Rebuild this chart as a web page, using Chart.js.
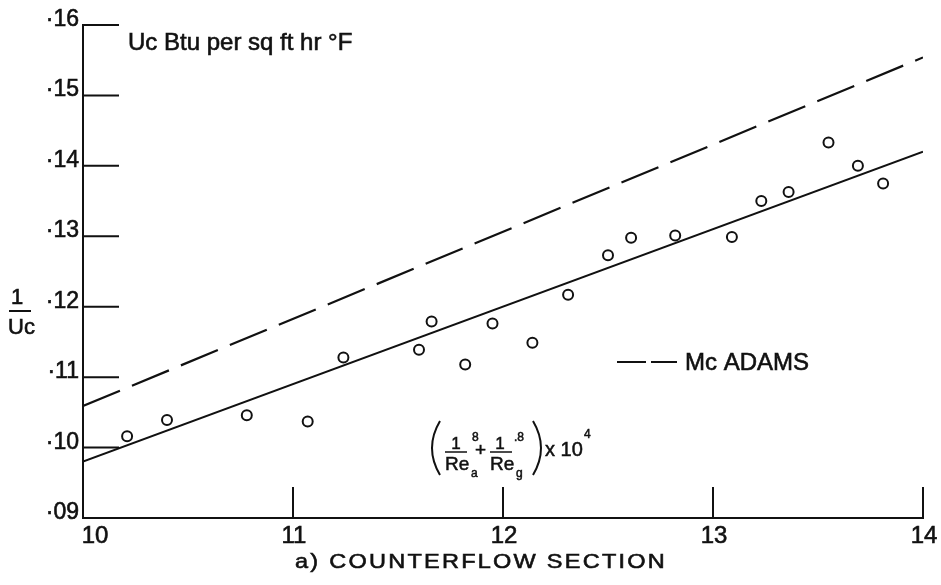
<!DOCTYPE html>
<html>
<head>
<meta charset="utf-8">
<script src="https://cdn.jsdelivr.net/npm/chart.js@4.4.1/dist/chart.umd.min.js"></script>
<style>
  html,body{margin:0;padding:0;background:#fff;}
  canvas{display:block;}
</style>
</head>
<body>
<canvas id="c" width="941" height="585"></canvas>
<script>
// ----- data -----
const obsX = [10.21,10.40,10.78,11.07,11.24,11.60,11.66,11.82,11.95,12.14,12.31,12.50,12.61,12.82,13.09,13.23,13.36,13.55,13.69,13.81];
const obsY = [0.1016,0.1039,0.1046,0.1037,0.1128,0.1139,0.1179,0.1118,0.1176,0.1149,0.1217,0.1273,0.1298,0.1301,0.1299,0.1350,0.1363,0.1433,0.1400,0.1375];
const fitX = [10,14];
const fitY = [0.098,0.142];
const mcAdamsX = [10,14];
const mcAdamsY = [0.1059,0.1554];
const xTicks = [10,11,12,13,14];
const xTickLabels = ["10","11","12","13","14"];
const yTicks = [0.09,0.10,0.11,0.12,0.13,0.14,0.15,0.16];
const yTickLabels = ["·09","·10","·11","·12","·13","·14","·15","·16"];

const INK = "#111";
const FONT = "'Liberation Sans', Arial, sans-serif";
const pts = (xs, ys)=> xs.map((x,i)=>({x, y: ys[i]}));

// lettering on the original is a bit heavier than a plain sans
function ink(ctx, s, x, y){
  ctx.fillText(s, x, y);
  ctx.strokeText(s, x, y);
}

// ----- hand-lettered axes, labels and legend -----
const paper = {
  id: "paper",
  beforeDatasetsDraw(chart){
    const {ctx} = chart, xs = chart.scales.x, ys = chart.scales.y;
    const x0 = xs.getPixelForValue(10), x1 = xs.getPixelForValue(14);
    const yb = ys.getPixelForValue(0.09), yt = ys.getPixelForValue(0.16);
    ctx.save();
    ctx.strokeStyle = INK; ctx.lineWidth = 2; ctx.lineCap = "square";
    ctx.beginPath();
    ctx.moveTo(x0, yt); ctx.lineTo(x0, yb); ctx.lineTo(x1, yb);
    // y ticks point inwards
    yTicks.slice(1).forEach(v=>{ const y = ys.getPixelForValue(v); ctx.moveTo(x0, y); ctx.lineTo(x0+35, y); });
    // x ticks point up
    xTicks.slice(1).forEach(v=>{ const x = xs.getPixelForValue(v); ctx.moveTo(x, yb); ctx.lineTo(x, yb-30); });
    ctx.stroke();

    ctx.fillStyle = INK; ctx.lineWidth = 0.6;
    ctx.font = `23px ${FONT}`;
    ctx.textAlign = "right"; ctx.textBaseline = "alphabetic";
    yTicks.forEach((v,i)=> ink(ctx, yTickLabels[i], x0-4, ys.getPixelForValue(v)+1));
    ctx.font = `24px ${FONT}`;
    ctx.textAlign = "center";
    xTicks.forEach((v,i)=>{
      const x = xs.getPixelForValue(v) + (i===0 ? 12 : 1);
      ink(ctx, xTickLabels[i], x, yb+25);
    });
    ctx.restore();
  },
  afterDraw(chart){
    const {ctx} = chart;
    ctx.save();
    ctx.fillStyle = INK; ctx.strokeStyle = INK;
    ctx.textBaseline = "alphabetic";

    // units note
    ctx.lineWidth = 0.6;
    ctx.font = `24px ${FONT}`;
    ctx.textAlign = "left";
    ink(ctx, "Uc Btu per sq ft hr °F", 128, 50);

    // y label: 1 / Uc
    ctx.font = `22px ${FONT}`;
    ctx.textAlign = "center";
    ink(ctx, "1", 17, 304);
    ctx.lineWidth = 2;
    ctx.beginPath(); ctx.moveTo(9, 311); ctx.lineTo(31, 311); ctx.stroke();
    ctx.lineWidth = 0.6;
    ctx.textAlign = "left";
    ink(ctx, "Uc", 8, 334);

    // legend
    ctx.lineWidth = 2;
    ctx.beginPath();
    ctx.moveTo(617, 362); ctx.lineTo(646, 362);
    ctx.moveTo(651, 362); ctx.lineTo(677, 362);
    ctx.stroke();
    ctx.lineWidth = 0.6;
    ctx.font = `24px ${FONT}`;
    ink(ctx, "Mc ADAMS", 685, 370);

    // x quantity: (1/Re_a^.8 + 1/Re_g^.8) x 10^4
    ctx.lineWidth = 2;
    ctx.beginPath();
    ctx.moveTo(440, 421); ctx.quadraticCurveTo(424, 448, 440, 475);
    ctx.moveTo(533, 421); ctx.quadraticCurveTo(549, 448, 533, 475);
    ctx.stroke();
    ctx.lineWidth = 1.5;
    ctx.beginPath();
    ctx.moveTo(445, 452); ctx.lineTo(467, 452);
    ctx.moveTo(490, 452); ctx.lineTo(512, 452);
    ctx.stroke();
    ctx.lineWidth = 0.5;
    ctx.textAlign = "center";
    ctx.font = `17px ${FONT}`;
    ink(ctx, "1", 456, 449);
    ink(ctx, "1", 500, 449);
    ctx.font = `19px ${FONT}`;
    ctx.textAlign = "left";
    ink(ctx, "Re", 445, 470);
    ink(ctx, "Re", 490, 470);
    ink(ctx, "+", 475, 456);
    ctx.font = `12px ${FONT}`;
    ink(ctx, "8", 472, 441);
    ink(ctx, ".8", 514, 441);
    ink(ctx, "a", 471, 477);
    ink(ctx, "g", 516, 477);
    ctx.font = `20px ${FONT}`;
    ink(ctx, "x 10", 545, 456);
    ctx.font = `12px ${FONT}`;
    ink(ctx, "4", 584, 438);

    // caption, wide lettering
    ctx.font = `21px ${FONT}`;
    ctx.letterSpacing = "2px";
    ctx.lineWidth = 0.6;
    ctx.translate(295, 568);
    ctx.scale(1.12, 1);
    ink(ctx, "a) COUNTERFLOW SECTION", 0, 0);
    ctx.restore();
  }
};

new Chart(document.getElementById("c"), {
  type: "scatter",
  data: {
    datasets: [
      { label: "data", data: pts(obsX, obsY), showLine: false,
        pointStyle: "circle", pointRadius: 5, pointBorderWidth: 2,
        pointBorderColor: INK, pointBackgroundColor: "rgba(0,0,0,0)" },
      { label: "fit", data: pts(fitX, fitY), showLine: true, pointRadius: 0,
        borderColor: INK, borderWidth: 2 },
      { label: "Mc ADAMS", data: pts(mcAdamsX, mcAdamsY), showLine: true, pointRadius: 0,
        borderColor: INK, borderWidth: 2.2, borderDash: [40, 13] }
    ]
  },
  options: {
    responsive: false,
    animation: false,
    layout: { padding: { left: 83, right: 18, top: 25, bottom: 67 } },
    plugins: { legend: { display: false }, tooltip: { enabled: false } },
    scales: {
      x: { type: "linear", min: 10, max: 14, display: false },
      y: { type: "linear", min: 0.09, max: 0.16, display: false }
    }
  },
  plugins: [paper]
});
</script>
</body>
</html>
